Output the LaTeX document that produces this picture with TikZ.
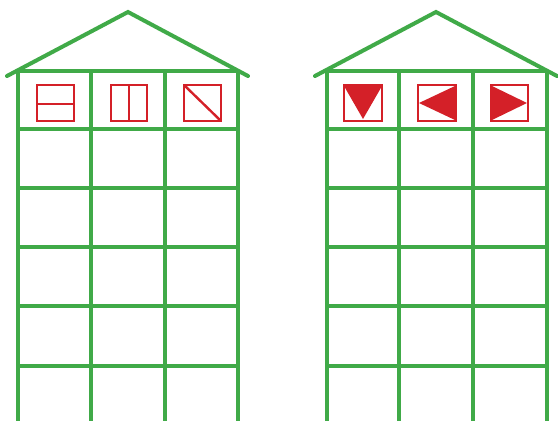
\documentclass[tikz,border=0pt]{standalone}
\definecolor{hgreen}{RGB}{64,170,72}
\definecolor{hred}{RGB}{212,32,40}
\tikzset{
  wall/.style={draw=hgreen,line width=4pt},
  roof/.style={draw=hgreen,line width=4pt,line cap=round,line join=miter},
  win/.style={draw=hred,line width=2.4pt},
  tri/.style={fill=hred,draw=none}
}
\begin{document}
\begin{tikzpicture}[x=1pt,y=-1pt]
\useasboundingbox (0,0) rectangle (558,421);
\fill[white] (0,0) rectangle (558,421);
% houses
\foreach \ox/\a/\b/\c/\d/\ap/\el/\er in {0/18/91/165/238/128/7/248, 309/327/399/473/547/436/315/557}{
  \draw[roof] (\el,76) -- (\ap,12) -- (\er,76);
  \foreach \yy in {71,129,188,247,306,366}{
    \draw[wall] (\a,\yy) -- (\d,\yy);
  }
  \foreach \xx in {\a,\b,\c,\d}{
    \draw[wall] (\xx,71) -- (\xx,425);
  }
}
% left house windows
\draw[win] (37,85) rectangle (74,121);
\draw[win] (37,104) -- (74,104);
\draw[win] (111,85) rectangle (147,121);
\draw[win] (129,85) -- (129,121);
\draw[win] (184,85) rectangle (221,121);
\draw[win] (184,85) -- (221,121);
% right house windows
\fill[tri] (344,86) -- (382,86) -- (363,119) -- cycle;
\draw[win] (344,85) rectangle (382,121);
\fill[tri] (455,86) -- (455,120) -- (419,103) -- cycle;
\draw[win] (418,85) rectangle (456,121);
\fill[tri] (492,86) -- (492,120) -- (527,103) -- cycle;
\draw[win] (491,85) rectangle (528,121);
\end{tikzpicture}
\end{document}
